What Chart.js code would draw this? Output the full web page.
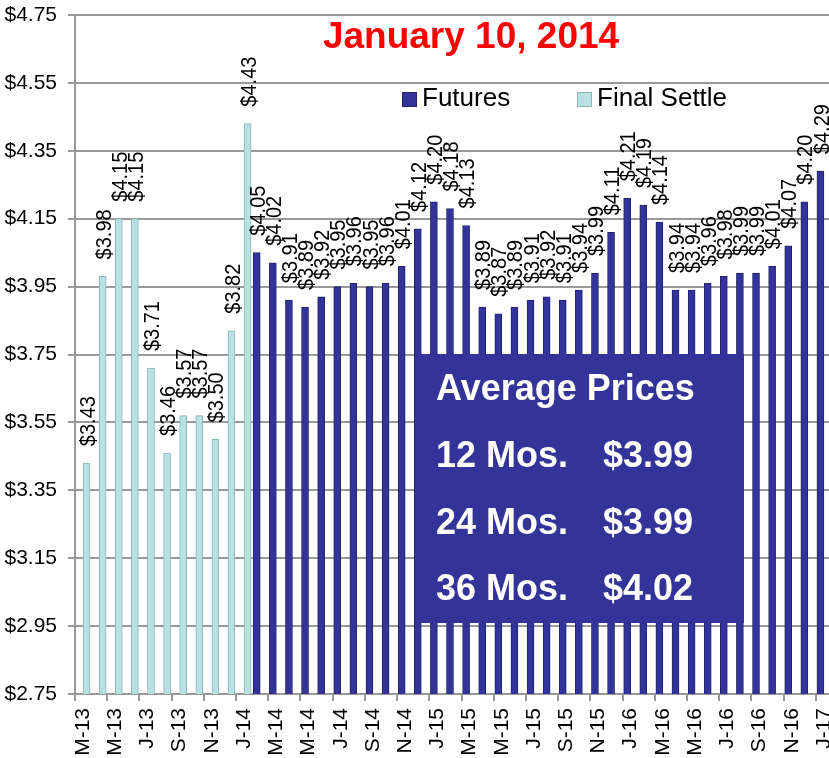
<!DOCTYPE html>
<html lang="en">
<head>
  <meta charset="UTF-8" />
  <title>Futures - January 10, 2014</title>
  <style>
    html, body { margin: 0; padding: 0; background: #fff; overflow: hidden; }
    .wrap { width: 834px; height: 758px; }
  </style>
</head>
<body>
  <div class="wrap">
    <canvas id="precioChart" width="834" height="758"></canvas>
  </div>

  <script src="https://cdn.jsdelivr.net/npm/chart.js"></script>
  <script>
    // Data
    const meses = [
      'M-13', 'A-13', 'M-13', 'J-13', 'J-13', 'A-13', 'S-13', 'O-13', 'N-13', 'D-13',
      'J-14', 'F-14', 'M-14', 'A-14', 'M-14', 'J-14', 'J-14', 'A-14', 'S-14', 'O-14', 'N-14', 'D-14',
      'J-15', 'F-15', 'M-15', 'A-15', 'M-15', 'J-15', 'J-15', 'A-15', 'S-15', 'O-15', 'N-15', 'D-15',
      'J-16', 'F-16', 'M-16', 'A-16', 'M-16', 'J-16', 'J-16', 'A-16', 'S-16', 'O-16', 'N-16', 'D-16',
      'J-17'
    ];
    const finalSettle = [3.43, 3.98, 4.15, 4.15, 3.71, 3.46, 3.57, 3.57, 3.50, 3.82, 4.43];
    const futures = [
      4.05, 4.02, 3.91, 3.89, 3.92, 3.95, 3.96, 3.95, 3.96, 4.01, 4.12, 4.20,
      4.18, 4.13, 3.89, 3.87, 3.89, 3.91, 3.92, 3.91, 3.94, 3.99, 4.11, 4.21,
      4.19, 4.14, 3.94, 3.94, 3.96, 3.98, 3.99, 3.99, 4.01, 4.07, 4.20, 4.29
    ];
    const yTicks = [2.75, 2.95, 3.15, 3.35, 3.55, 3.75, 3.95, 4.15, 4.35, 4.55, 4.75];
    const titulo = 'January 10, 2014';
    const promedios = [
      ['12 Mos.', 3.99],
      ['24 Mos.', 3.99],
      ['36 Mos.', 4.02]
    ];

    const FONT = '"Liberation Sans", Arial, sans-serif';
    const AZUL = '#333399';
    const CELESTE = '#b9e0e2';

    // pad each series with empty months so both share one category axis
    const futuresData = finalSettle.map(() => null).concat(futures);
    const settleData = finalSettle.concat(futures.map(() => null));

    const money = (v) => '$' + v.toFixed(2);

    // Value labels, rotated, above each bar
    const etiquetas = {
      id: 'etiquetas',
      afterDatasetsDraw(chart) {
        const c = chart.ctx;
        c.save();
        c.font = '20px ' + FONT;
        c.fillStyle = '#000';
        c.textAlign = 'left';
        c.textBaseline = 'middle';
        chart.data.datasets.forEach((ds, di) => {
          chart.getDatasetMeta(di).data.forEach((bar, i) => {
            const v = ds.data[i];
            if (v == null) return;
            c.save();
            c.translate(bar.x + 2, bar.y - 17);
            c.rotate(-Math.PI / 2);
            c.scale(1, 1.1);
            c.fillText(money(v), 0, 0);
            c.restore();
          });
        });
        c.restore();
      }
    };

    // Title, legend and the average prices box
    const adornos = {
      id: 'adornos',
      afterDraw(chart) {
        const c = chart.ctx;
        c.save();

        c.fillStyle = '#ff0000';
        c.font = 'bold 37px ' + FONT;
        c.textAlign = 'center';
        c.textBaseline = 'alphabetic';
        c.fillText(titulo, 471, 48);

        // legend
        c.textAlign = 'left';
        c.font = '26px ' + FONT;
        const items = [
          { text: 'Futures', fill: AZUL, border: '#22226e', x: 402 },
          { text: 'Final Settle', fill: CELESTE, border: '#8fb3b6', x: 577 }
        ];
        items.forEach((it) => {
          c.fillStyle = it.fill;
          c.fillRect(it.x, 92, 14, 14);
          c.strokeStyle = it.border;
          c.lineWidth = 1;
          c.strokeRect(it.x + 0.5, 92.5, 14, 14);
          c.fillStyle = '#000';
          c.fillText(it.text, it.x + 20, 106);
        });

        // average prices box
        c.fillStyle = AZUL;
        c.fillRect(416, 354, 328, 269);
        c.fillStyle = '#fff';
        c.font = 'bold 36px ' + FONT;
        c.fillText('Average Prices', 436, 400);
        promedios.forEach((p, i) => {
          const y = 467 + i * 66.5;
          c.fillText(p[0], 436, y);
          c.fillText(money(p[1]), 603, y);
        });

        c.restore();
      }
    };

    const ctx = document.getElementById('precioChart').getContext('2d');
    const chart = new Chart(ctx, {
      type: 'bar',
      data: {
        labels: meses,
        datasets: [
          {
            label: 'Futures',
            data: futuresData,
            backgroundColor: AZUL,
            borderColor: '#22226e',
            borderWidth: 1,
            barThickness: 7
          },
          {
            label: 'Final Settle',
            data: settleData,
            backgroundColor: CELESTE,
            borderColor: '#8fb3b6',
            borderWidth: 1,
            barThickness: 7
          }
        ]
      },
      options: {
        responsive: false,
        animation: false,
        layout: { padding: { top: 15, right: 2, left: 0, bottom: 0 } },
        plugins: {
          legend: { display: false },
          tooltip: { enabled: false }
        },
        scales: {
          x: {
            afterFit(scale) {
              scale.height = 64;
              scale.paddingLeft = 0;
              scale.paddingRight = 0;
            },
            grid: {
              drawOnChartArea: false,
              tickLength: 7,
              lineWidth: 2,
              color: (c) => (c.index % 2 === 0 ? '#999999' : 'rgba(0,0,0,0)')
            },
            border: { color: '#999999', width: 2 },
            ticks: {
              autoSkip: false,
              minRotation: 90,
              maxRotation: 90,
              padding: 7,
              color: '#000',
              font: { family: FONT, size: 21 },
              callback: (val, i) => (i % 2 === 0 ? meses[i] : '')
            }
          },
          y: {
            min: yTicks[0],
            max: yTicks[yTicks.length - 1],
            afterFit(scale) {
              scale.width = 75;
              scale.paddingTop = 0;
              scale.paddingBottom = 0;
            },
            afterBuildTicks(scale) {
              scale.ticks = yTicks.map((v) => ({ value: v }));
            },
            grid: { color: '#999999', lineWidth: 2, tickLength: 7 },
            border: { color: '#999999', width: 2 },
            ticks: {
              padding: 11,
              color: '#000',
              font: { family: FONT, size: 21 },
              callback: (v) => money(v)
            }
          }
        }
      },
      plugins: [etiquetas, adornos]
    });
  </script>
</body>
</html>
